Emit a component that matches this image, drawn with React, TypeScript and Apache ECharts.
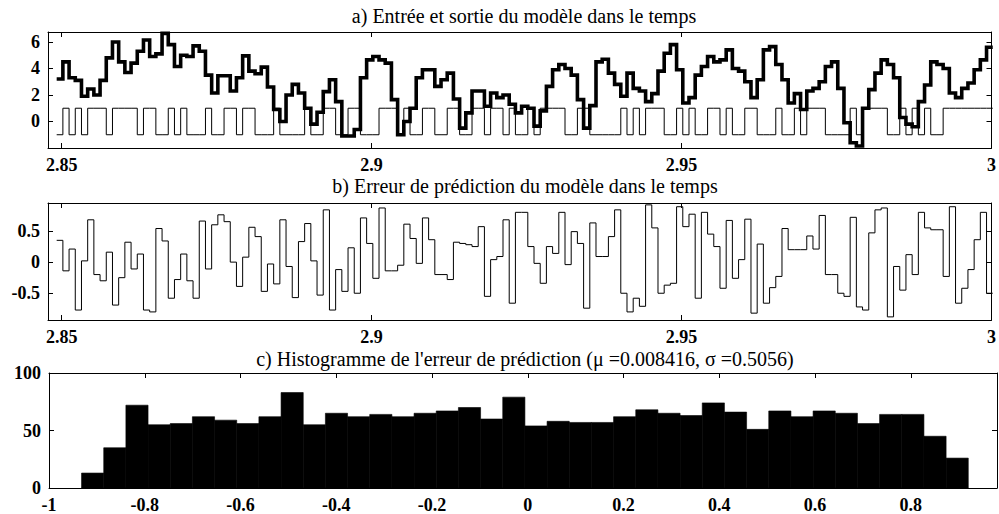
import React, { useEffect, useRef } from "react";
import * as echarts from "echarts";

// sampling of the time signals (s)
const T0 = 2.8492;
const DT = 0.001;

// a) input (thin) and output (thick) of the model
const inputSignal = [
  -1, 1, -1, 1, -1, 1, 1, 1, -1, 1,
  1, 1, 1, -1, 1, 1, -1, -1, 1, -1,
  1, -1, -1, -1, 1, -1, -1, 1, 1, -1,
  1, 1, -1, -1, -1, 1, -1, -1, -1, -1,
  1, -1, -1, 1, 1, -1, -1, 1, 1, -1,
  -1, -1, 1, 1, 1, -1, 1, -1, -1, 1,
  1, -1, -1, 1, 1, -1, -1, 1, 1, -1,
  1, 1, -1, 1, -1, -1, 1, -1, 1, 1,
  1, 1, -1, -1, 1, 1, -1, -1, -1, -1,
  -1, 1, -1, 1, -1, 1, 1, 1, -1, -1,
  1, -1, 1, -1, -1, 1, 1, -1, 1, -1,
  -1, 1, 1, -1, -1, -1, 1, -1, -1, 1,
  -1, 1, 1, 1, -1, -1, -1, -1, 1, -1,
  1, 1, 1, 1, -1, -1, 1, -1, 1, -1,
  1, -1, -1, 1, 1, 1, 1, 1, 1, 1,
  1,
];

const outputSignal = [
  3.2, 4.5, 3.3, 3.1, 1.9, 2.45, 2.0, 3.1, 4.8, 6.0,
  4.5, 3.7, 4.4, 5.3, 6.15, 4.9, 5.1, 6.65, 5.8, 4.15,
  5.0, 4.9, 5.7, 5.3, 3.5, 2.15, 3.45, 3.45, 2.3, 3.3,
  4.95, 3.8, 3.6, 4.1, 2.6, 0.9, 0.0, 2.0, 2.8, 2.15,
  1.0, -0.2, 0.7, 2.25, 3.15, 1.5, -1.1, -1.1, -0.6, 3.3,
  4.65, 4.9, 4.65, 4.4, 1.65, -1.0, 0.0, 1.0, 3.3, 3.9,
  3.9, 2.65, 3.15, 3.65, 1.7, -0.5, 0.65, 2.3, 2.3, 1.15,
  2.15, 1.8, 2.0, 1.3, 0.65, 1.15, 1.0, -0.35, 0.8, 2.65,
  3.9, 4.3, 4.0, 3.5, 1.65, -0.5, 1.2, 4.5, 4.7, 3.65,
  2.8, 1.9, 3.65, 2.5, 2.3, 1.5, 2.1, 3.8, 5.15, 5.8,
  3.9, 1.4, 1.8, 3.5, 4.15, 4.9, 4.5, 4.65, 5.4, 4.0,
  3.8, 3.0, 1.8, 3.15, 5.4, 5.65, 4.3, 3.15, 1.4, 2.1,
  0.9, 2.3, 2.5, 3.0, 4.15, 4.5, 2.5, -0.1, -1.6, -1.85,
  1.0, 2.4, 3.65, 4.65, 4.3, 3.3, 0.3, -0.2, -0.4, 1.5,
  2.75, 4.5, 4.3, 4.0, 2.15, 1.8, 2.5, 2.9, 3.9, 4.65,
  5.6,
];

// b) prediction error
const predError = [
  0.35, -0.14, 0.21, -0.77, 0.02, 0.68, -0.2, -0.3, 0.16, -0.69,
  -0.25, 0.32, -0.11, 0.13, -0.77, -0.8, 0.54, 0.34, -0.58, -0.28,
  0.13, -0.3, -0.58, 0.66, -0.11, 0.6, 0.76, 0.65, 0.0, -0.39,
  0.08, 0.56, 0.41, -0.47, -0.03, -0.35, 0.68, -0.07, -0.57, 0.33,
  0.62, 0.02, -0.53, 0.84, -0.77, -0.12, -0.47, 0.23, -0.5, 0.71,
  0.3, -0.26, 0.87, -0.14, -0.14, -0.05, 0.61, 0.38, -0.02, 0.71,
  0.36, -0.2, -0.2, -0.28, 0.32, 0.3, 0.28, 0.25, 0.57, -0.55,
  0.04, 0.09, 0.68, -0.66, 0.8, 0.8, 0.25, -0.02, -0.34, 0.25,
  0.14, 0.8, -0.04, 0.49, 0.3, -0.74, 0.63, 0.09, 0.09, 0.41,
  0.84, -0.5, -0.8, -0.58, -0.71, 0.92, 0.55, -0.5, -0.37, -0.34,
  0.89, 0.57, 0.77, -0.58, 0.8, 0.45, 0.25, -0.42, 0.67, -0.26,
  0.04, 0.69, -0.82, 0.29, -0.66, -0.41, -0.23, 0.54, 0.2, 0.2,
  0.2, 0.42, 0.21, 0.75, -0.2, -0.2, -0.5, -0.55, 0.72, -0.72,
  -0.77, 0.47, 0.84, 0.87, -0.88, -0.07, -0.45, 0.12, -0.2, 0.8,
  0.55, 0.52, 0.52, -0.23, 0.89, -0.66, -0.42, -0.12, 0.36, 0.8,
  -0.5,
];

// c) histogram of the prediction error (40 bins)
const HIST_MIN = -0.932;
const HIST_MAX = 0.92;
const histCounts = [
  13, 35, 72, 55, 56, 62, 59, 56, 62, 83,
  55, 65, 62, 64, 62, 65, 67, 70, 60, 79,
  54, 58, 57, 57, 62, 68, 65, 63, 74, 66,
  51, 67, 62, 67, 65, 56, 64, 64, 45, 26,
];

const timeTicks = [2.85, 2.9, 2.95, 3];
const yTicksA = [0, 2, 4, 6];
const yTicksB = [-0.5, 0, 0.5];
const xTicksC = [-1, -0.8, -0.6, -0.4, -0.2, 0, 0.2, 0.4, 0.6, 0.8];
const yTicksC = [0, 50, 100];

const titleA = "a) Entrée et sortie du modèle dans le temps";
const titleB = "b) Erreur de prédiction du modèle dans le temps";
const titleC = "c) Histogramme de l'erreur de prédiction (μ =0.008416, σ =0.5056)";

const FONT = "Liberation Serif";

function toSteps(vals: number[]) {
  const d = vals.map((v, i) => [T0 + i * DT, v]);
  d.push([T0 + vals.length * DT, vals[vals.length - 1]]);
  return d;
}

function makeAxis(
  gridIndex: number,
  position: string,
  min: number,
  max: number,
  ticks: number[],
  showLabel: boolean
) {
  return {
    type: "value",
    gridIndex,
    position,
    min,
    max,
    axisLine: { show: true, onZero: false, lineStyle: { color: "#000", width: 1 } },
    axisTick: {
      show: true,
      inside: true,
      length: 5,
      customValues: ticks,
      lineStyle: { color: "#000", width: 1 },
    },
    axisLabel: {
      show: showLabel,
      customValues: ticks,
      margin: 8,
      color: "#000",
      fontFamily: FONT,
      fontSize: 18,
      fontWeight: "bold",
      showMinLabel: true,
      showMaxLabel: true,
    },
    splitLine: { show: false },
  };
}

function titleText(text: string, x: number, y: number) {
  return {
    type: "text",
    x,
    y,
    style: {
      text,
      fontFamily: FONT,
      fontSize: 20,
      fill: "#000",
      textAlign: "center",
      textVerticalAlign: "middle",
      align: "center",
      verticalAlign: "middle",
    },
  };
}

export default function App() {
  const ref = useRef<HTMLDivElement>(null);

  useEffect(() => {
    if (!ref.current) return;
    const chart = echarts.init(ref.current, undefined, { renderer: "svg" });

    const binW = (HIST_MAX - HIST_MIN) / histCounts.length;
    const histData = histCounts.map((c, i) => [
      HIST_MIN + i * binW,
      HIST_MIN + (i + 1) * binW,
      c,
    ]);

    const tMin = 2.8478;
    const tMax = 3;

    const option: any = {
      animation: false,
      backgroundColor: "#fff",
      textStyle: { fontFamily: FONT },
      grid: [
        { left: 48, top: 32, width: 949, height: 116 },
        { left: 48, top: 203, width: 949, height: 117 },
        { left: 49, top: 373, width: 948, height: 117 },
      ],
      xAxis: [
        makeAxis(0, "bottom", tMin, tMax, timeTicks, true),
        makeAxis(0, "top", tMin, tMax, timeTicks, false),
        makeAxis(1, "bottom", tMin, tMax, timeTicks, true),
        makeAxis(1, "top", tMin, tMax, timeTicks, false),
        makeAxis(2, "bottom", -1, 0.98, xTicksC, true),
        makeAxis(2, "top", -1, 0.98, xTicksC, false),
      ],
      yAxis: [
        makeAxis(0, "left", -2, 6.75, yTicksA, true),
        makeAxis(0, "right", -2, 6.75, yTicksA, false),
        makeAxis(1, "left", -0.93, 0.95, yTicksB, true),
        makeAxis(1, "right", -0.93, 0.95, yTicksB, false),
        makeAxis(2, "left", 0, 100, yTicksC, true),
        makeAxis(2, "right", 0, 100, yTicksC, false),
      ],
      graphic: [
        titleText(titleA, 524, 16),
        titleText(titleB, 525, 186),
        titleText(titleC, 525, 359),
      ],
      series: [
        {
          name: "entrée",
          type: "line",
          xAxisIndex: 0,
          yAxisIndex: 0,
          step: "end",
          symbol: "none",
          data: toSteps(inputSignal),
          lineStyle: { color: "#000", width: 1 },
          z: 2,
        },
        {
          name: "sortie",
          type: "line",
          xAxisIndex: 0,
          yAxisIndex: 0,
          step: "end",
          symbol: "none",
          data: toSteps(outputSignal),
          lineStyle: { color: "#000", width: 3.6, join: "miter" },
          z: 3,
        },
        {
          name: "erreur",
          type: "line",
          xAxisIndex: 2,
          yAxisIndex: 2,
          step: "end",
          symbol: "none",
          data: toSteps(predError),
          lineStyle: { color: "#000", width: 1 },
        },
        {
          name: "histogramme",
          type: "custom",
          xAxisIndex: 4,
          yAxisIndex: 4,
          data: histData,
          encode: { x: [0, 1], y: 2 },
          renderItem: (params: any, api: any) => {
            const p0 = api.coord([api.value(0), api.value(2)]);
            const p1 = api.coord([api.value(1), 0]);
            return {
              type: "rect",
              shape: { x: p0[0], y: p0[1], width: p1[0] - p0[0], height: p1[1] - p0[1] },
              style: { fill: "#000", stroke: "#000", lineWidth: 0.6 },
            };
          },
        },
      ],
    };

    chart.setOption(option);
    return () => chart.dispose();
  }, []);

  return (
    <div
      style={{
        position: "fixed",
        left: 0,
        top: 0,
        width: 999,
        height: 514,
        background: "#fff",
      }}
    >
      <div ref={ref} style={{ width: 999, height: 514 }} />
    </div>
  );
}
